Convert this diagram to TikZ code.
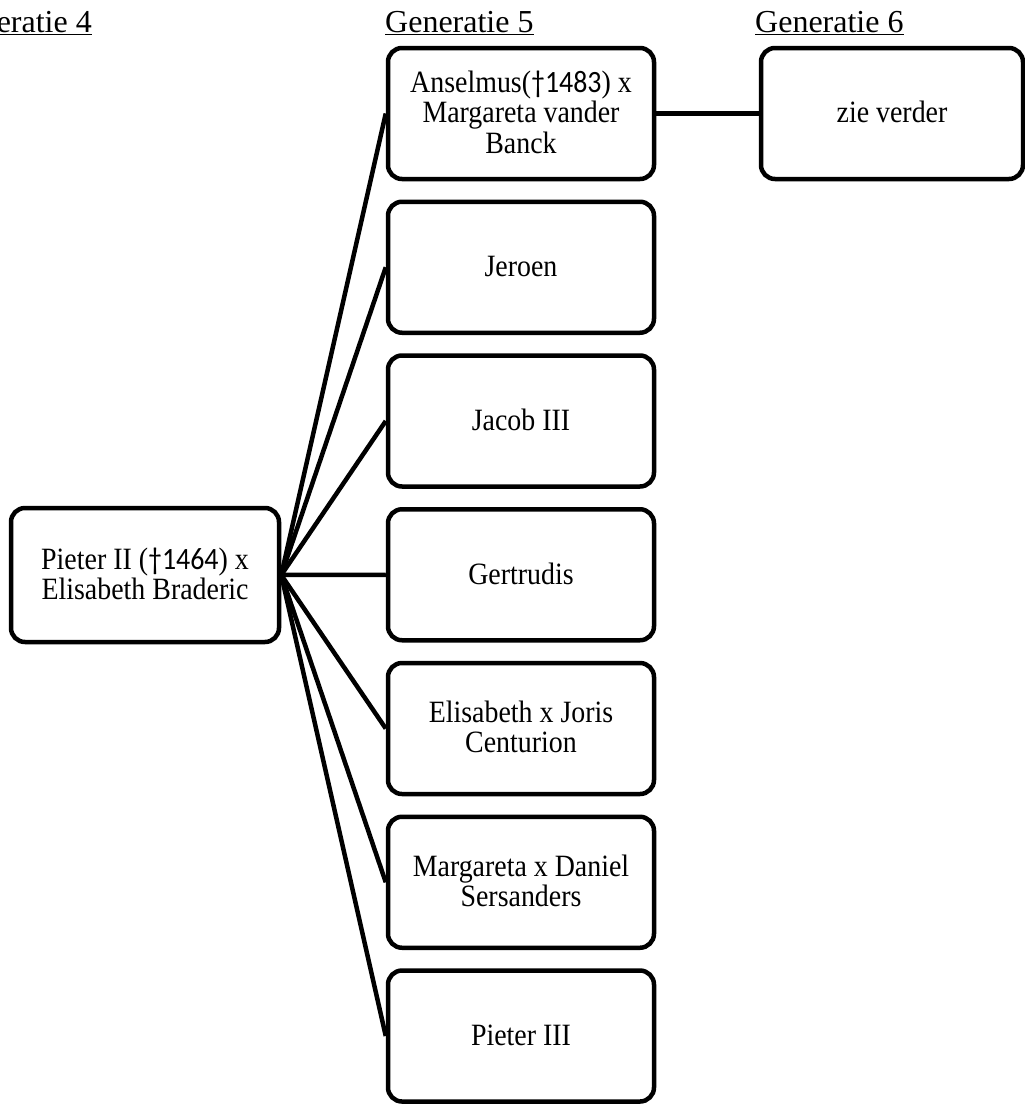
\documentclass[tikz,border=0pt]{standalone}
\usepackage{fontspec}
\setmainfont{Liberation Serif}
\newfontfamily\daggerfont{Carlito}
\newcommand\boxtext[1]{\raisebox{-3pt}[\height][\depth]{\scalebox{0.9}[1]{\fontsize{31pt}{30pt}\selectfont\begin{tabular}{@{}c@{}}#1\end{tabular}}}}
\begin{document}
\begin{tikzpicture}[x=1pt,y=-1pt,
  person/.style={draw=black,line width=4.5pt,rounded corners=14pt,fill=white,
    minimum width=266pt,minimum height=131pt,align=center,inner sep=0pt},
  header/.style={anchor=base west,inner sep=0pt,font=\fontsize{32pt}{34pt}\selectfont},
  link/.style={line width=4.5pt}]
\useasboundingbox (0,0) rectangle (1025,1104);
% headers
\node[header,anchor=base east] (h4) at (92,32) {\underline{Generatie 4}};
\node[header] (h5) at (385,32) {\underline{Generatie 5}};
\node[header] (h6) at (755,32) {\underline{Generatie 6}};
% generation 4
\node[person,minimum width=268pt,minimum height=134pt] (p) at (145,575) {\boxtext{Pieter II ({\daggerfont †1464}) x\\Elisabeth Braderic}};
% generation 5
\node[person] (a) at (521,113.5) {\boxtext{Anselmus({\daggerfont †1483}) x\\Margareta vander\\Banck}};
\node[person] (b) at (521,267.25) {\boxtext{Jeroen}};
\node[person] (c) at (521,421) {\boxtext{Jacob III}};
\node[person] (d) at (521,574.75) {\boxtext{Gertrudis}};
\node[person] (e) at (521,728.5) {\boxtext{Elisabeth x Joris\\Centurion}};
\node[person] (f) at (521,882.25) {\boxtext{Margareta x Daniel\\Sersanders}};
\node[person] (g) at (521,1036) {\boxtext{Pieter III}};
% generation 6
\node[person,minimum width=262pt] (z) at (892,113.5) {\boxtext{zie verder}};
% connectors
\foreach \t in {a,b,c,d,e,f,g}
  \draw[link] (p.east) -- (\t.west);
\draw[link] (a.east) -- (z.west);
\end{tikzpicture}
\end{document}
